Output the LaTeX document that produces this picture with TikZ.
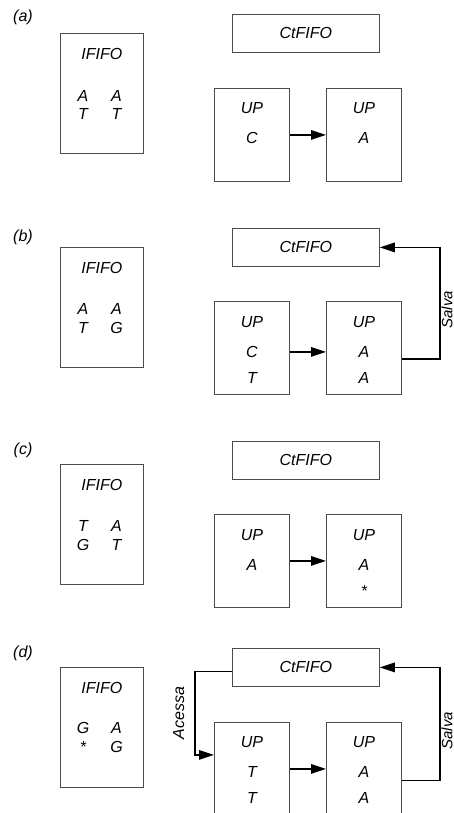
\documentclass[tikz,border=0pt]{standalone}
\usepackage{fontspec}
\setmainfont{Liberation Sans}
\usetikzlibrary{arrows.meta}
\begin{document}
\begin{tikzpicture}[x=1pt, y=-1pt]
    % Define styles
    \tikzset{
        every node/.style={
            font=\fontsize{16}{19}\selectfont\itshape
        },
        fifo/.style={
            draw=black!70,
            line width=0.8pt,
            anchor=north west,
            inner sep=0pt
        },
        ififo/.style={
            fifo,
            minimum width=83pt,
            minimum height=120pt
        },
        ctfifo/.style={
            fifo,
            minimum width=147pt,
            minimum height=38pt
        },
        upbox/.style={
            fifo,
            minimum width=75pt,
            minimum height=93pt
        },
        sym/.style={
            inner sep=0pt,
            anchor=base
        },
        panel/.style={
            inner sep=0pt
        },
        tag/.style={
            rotate=90,
            inner xsep=0pt
        },
        arrow/.style={
            -{Triangle[length=15pt, width=9.5pt]},
            line width=1.5pt
        }
    }

    \useasboundingbox (0,0) rectangle (454,813);
    \clip (0,0) rectangle (454,813);

    % Panel (a)
    \begin{scope}[shift={(0,14)}]
        \node[panel] (lbl_a) at (23,3) {(a)};
        \node[ififo] (ifa) at (60,19) {};
        \node[sym] (ifa_title) at ([yshift=-26.5pt]ifa.north) {IFIFO};
        \node[sym] (ifa_11) at ([xshift=23pt, yshift=-68.5pt]ifa.north west) {A};
        \node[sym] (ifa_12) at ([xshift=56.5pt, yshift=-68.5pt]ifa.north west) {A};
        \node[sym] (ifa_21) at ([xshift=23pt, yshift=-86.5pt]ifa.north west) {T};
        \node[sym] (ifa_22) at ([xshift=56.5pt, yshift=-86.5pt]ifa.north west) {T};

        \node[ctfifo] (cta) at (232,0) {CtFIFO};

        \node[upbox] (upa1) at (214,74) {};
        \node[sym] (upa1_t) at ([yshift=-26pt]upa1.north) {UP};
        \node[sym] (upa1_1) at ([yshift=-56pt]upa1.north) {C};
        \node[upbox] (upa2) at (326,74) {};
        \node[sym] (upa2_t) at ([yshift=-26pt]upa2.north) {UP};
        \node[sym] (upa2_1) at ([yshift=-56pt]upa2.north) {A};

        \draw[arrow] (upa1) -- (upa2);
    \end{scope}

    % Panel (b)
    \begin{scope}[shift={(0,228)}]
        \node[panel] (lbl_b) at (23,9) {(b)};
        \node[ififo] (ifb) at (60,19) {};
        \node[sym] (ifb_title) at ([yshift=-26.5pt]ifb.north) {IFIFO};
        \node[sym] (ifb_11) at ([xshift=23pt, yshift=-67.5pt]ifb.north west) {A};
        \node[sym] (ifb_12) at ([xshift=56.5pt, yshift=-67.5pt]ifb.north west) {A};
        \node[sym] (ifb_21) at ([xshift=23pt, yshift=-86.5pt]ifb.north west) {T};
        \node[sym] (ifb_22) at ([xshift=56.5pt, yshift=-86.5pt]ifb.north west) {G};

        \node[ctfifo] (ctb) at (232,0) {CtFIFO};

        \node[upbox] (upb1) at (214,73) {};
        \node[sym] (upb1_t) at ([yshift=-26.5pt]upb1.north) {UP};
        \node[sym] (upb1_1) at ([yshift=-56.5pt]upb1.north) {C};
        \node[sym] (upb1_2) at ([yshift=-82.5pt]upb1.north) {T};
        \node[upbox] (upb2) at (326,73) {};
        \node[sym] (upb2_t) at ([yshift=-26.5pt]upb2.north) {UP};
        \node[sym] (upb2_1) at ([yshift=-56.5pt]upb2.north) {A};
        \node[sym] (upb2_2) at ([yshift=-82.5pt]upb2.north) {A};

        \draw[arrow] ([yshift=-4pt]upb1.east) -- ([yshift=-4pt]upb2.west);
        \draw[arrow] ([yshift=-11pt]upb2.east) -- ++(38,0)
            |- node[tag, pos=0.22, anchor=north, inner ysep=1pt,
                    font=\fontsize{15}{18}\selectfont\itshape] (salva_b) {Salva}
            (ctb.east);
    \end{scope}

    % Panel (c)
    \begin{scope}[shift={(0,441)}]
        \node[panel] (lbl_c) at (23,9) {(c)};
        \node[ififo] (ifc) at (60,23) {};
        \node[sym] (ifc_title) at ([yshift=-26.5pt]ifc.north) {IFIFO};
        \node[sym] (ifc_11) at ([xshift=23pt, yshift=-67.5pt]ifc.north west) {T};
        \node[sym] (ifc_12) at ([xshift=56.5pt, yshift=-67.5pt]ifc.north west) {A};
        \node[sym] (ifc_21) at ([xshift=23pt, yshift=-86.5pt]ifc.north west) {G};
        \node[sym] (ifc_22) at ([xshift=56.5pt, yshift=-86.5pt]ifc.north west) {T};

        \node[ctfifo] (ctc) at (232,0) {CtFIFO};

        \node[upbox] (upc1) at (214,73) {};
        \node[sym] (upc1_t) at ([yshift=-26.5pt]upc1.north) {UP};
        \node[sym] (upc1_1) at ([yshift=-56.5pt]upc1.north) {A};
        \node[upbox] (upc2) at (326,73) {};
        \node[sym] (upc2_t) at ([yshift=-26.5pt]upc2.north) {UP};
        \node[sym] (upc2_1) at ([yshift=-56.5pt]upc2.north) {A};
        \node[sym] (upc2_2) at ([yshift=-82.5pt]upc2.north) {*};

        \draw[arrow] (upc1) -- (upc2);
    \end{scope}

    % Panel (d)
    \begin{scope}[shift={(0,648)}]
        \node[panel] (lbl_d) at (23,5.5) {(d)};
        \node[ififo] (ifd) at (60,19) {};
        \node[sym] (ifd_title) at ([yshift=-26.5pt]ifd.north) {IFIFO};
        \node[sym] (ifd_11) at ([xshift=23pt, yshift=-66.5pt]ifd.north west) {G};
        \node[sym] (ifd_12) at ([xshift=56.5pt, yshift=-66.5pt]ifd.north west) {A};
        \node[sym] (ifd_21) at ([xshift=23pt, yshift=-85.5pt]ifd.north west) {*};
        \node[sym] (ifd_22) at ([xshift=56.5pt, yshift=-85.5pt]ifd.north west) {G};

        \node[ctfifo] (ctd) at (232,0) {CtFIFO};

        \node[upbox] (upd1) at (214,74) {};
        \node[sym] (upd1_t) at ([yshift=-25.5pt]upd1.north) {UP};
        \node[sym] (upd1_1) at ([yshift=-55.5pt]upd1.north) {T};
        \node[sym] (upd1_2) at ([yshift=-81.5pt]upd1.north) {T};
        \node[upbox] (upd2) at (326,74) {};
        \node[sym] (upd2_t) at ([yshift=-25.5pt]upd2.north) {UP};
        \node[sym] (upd2_1) at ([yshift=-55.5pt]upd2.north) {A};
        \node[sym] (upd2_2) at ([yshift=-81.5pt]upd2.north) {A};

        \draw[arrow] (upd1) -- (upd2);
        \draw[arrow] ([yshift=-4pt]ctd.west) -- ++(-37,0)
            |- node[tag, pos=0.25, anchor=south, inner ysep=10pt] (acessa_d) {Acessa}
            ([yshift=14pt]upd1.west);
        \draw[arrow] ([yshift=-11.5pt]upd2.east) -- ++(38,0)
            |- node[tag, pos=0.22, anchor=north, inner ysep=1pt,
                    font=\fontsize{15}{18}\selectfont\itshape] (salva_d) {Salva}
            (ctd.east);
    \end{scope}
\end{tikzpicture}
\end{document}
